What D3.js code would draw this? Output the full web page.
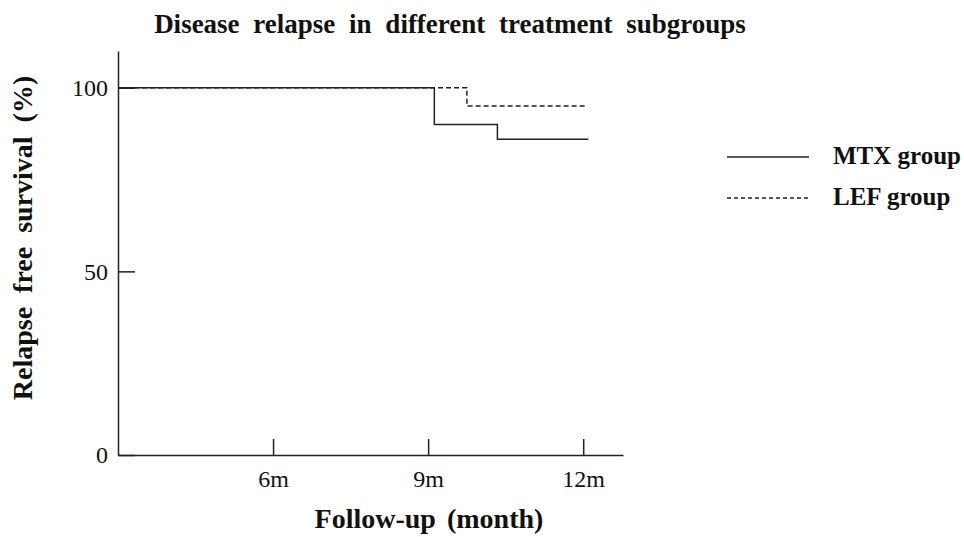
<!DOCTYPE html>
<html>
<head>
<meta charset="utf-8">
<script src="https://cdn.jsdelivr.net/npm/d3@7"></script>
<style>
  body { margin: 0; background: #fff; }
  text { font-family: "Liberation Serif", "Times New Roman", serif; fill: #111; }
  .tick text { font-size: 24px; }
</style>
</head>
<body>
<div class="chart"></div>
<script>
var svgWidth = 964;
var svgHeight = 537;

// survival steps
var mtxMonths = [3, 9.12, 10.34, 12.1];
var mtxSurvival = [100, 90, 86, 86];
var lefMonths = [3, 9.75, 12.08];
var lefSurvival = [100, 95, 95];

var xTicks = [6, 9, 12];
var xTickLabels = ["6m", "9m", "12m"];
var yTicks = [0, 50, 100];

var legendNames = ["MTX group", "LEF group"];

var svg = d3.select(".chart")
  .append("svg")
  .attr("width", svgWidth)
  .attr("height", svgHeight);

var xScale = d3.scaleLinear().domain([3, 12.77]).range([118, 623]);
var yScale = d3.scaleLinear().domain([0, 110]).range([455, 51]);

// axes
var bottomAxis = d3.axisBottom(xScale)
  .tickValues(xTicks)
  .tickFormat((d, i) => xTickLabels[i])
  .tickSizeInner(-16)
  .tickSizeOuter(0)
  .tickPadding(15);

var leftAxis = d3.axisLeft(yScale)
  .tickValues(yTicks)
  .tickSizeInner(-17)
  .tickSizeOuter(0)
  .tickPadding(10);

var xAxis = svg.append("g")
  .attr("transform", `translate(0, ${yScale(0)})`)
  .call(bottomAxis);

var yAxis = svg.append("g")
  .attr("transform", `translate(${xScale(3)}, 0)`)
  .call(leftAxis);

svg.selectAll(".domain, .tick line")
  .attr("stroke", "#222")
  .attr("stroke-width", 1.5);

yAxis.selectAll(".tick text").attr("dy", "0.32em");

// survival curves
var line = d3.line()
  .x(d => xScale(d[0]))
  .y(d => yScale(d[1]))
  .curve(d3.curveStepAfter);

var mtxData = mtxMonths.map((m, i) => [m, mtxSurvival[i]]);
var lefData = lefMonths.map((m, i) => [m, lefSurvival[i]]);

svg.append("path")
  .datum(lefData)
  .attr("d", line)
  .attr("fill", "none")
  .attr("stroke", "#222")
  .attr("stroke-width", 1.5)
  .attr("stroke-dasharray", "5,3");

svg.append("path")
  .datum(mtxData)
  .attr("d", line)
  .attr("fill", "none")
  .attr("stroke", "#222")
  .attr("stroke-width", 1.5);

// legend
var legend = svg.append("g");
legendNames.forEach(function(name, i) {
  var y = 157 + i * 41;
  legend.append("line")
    .attr("x1", 727).attr("x2", 809)
    .attr("y1", y).attr("y2", y)
    .attr("stroke", "#222")
    .attr("stroke-width", 1.5)
    .attr("stroke-dasharray", i == 1 ? "4,3" : null);
  legend.append("text")
    .attr("x", 833)
    .attr("y", y + 7)
    .style("font-size", "25px")
    .style("font-weight", "bold")
    .text(name);
});

// titles
svg.append("text")
  .attr("x", 450)
  .attr("y", 33)
  .attr("text-anchor", "middle")
  .style("font-size", "27px")
  .style("font-weight", "bold")
  .style("word-spacing", "7px")
  .text("Disease relapse in different treatment subgroups");

svg.append("text")
  .attr("transform", "rotate(-90)")
  .attr("x", -238)
  .attr("y", 32)
  .attr("text-anchor", "middle")
  .style("font-size", "28px")
  .style("font-weight", "bold")
  .style("word-spacing", "7px")
  .text("Relapse free survival (%)");

svg.append("text")
  .attr("x", 429)
  .attr("y", 528)
  .attr("text-anchor", "middle")
  .style("font-size", "28px")
  .style("font-weight", "bold")
  .style("word-spacing", "4px")
  .text("Follow-up (month)");
</script>
</body>
</html>
